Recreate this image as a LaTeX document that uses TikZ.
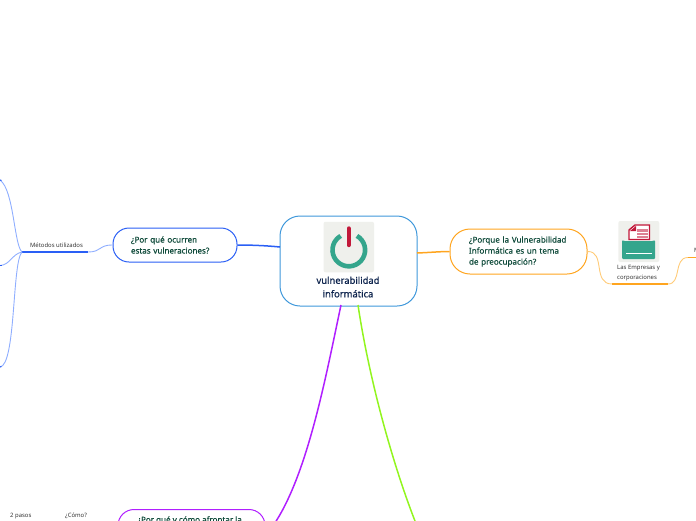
\documentclass[tikz,border=0pt]{standalone}
\usepackage{fontspec}
\setmainfont{Noto Sans}
\newfontfamily\semi[FakeBold=0.3]{Noto Sans}
\newfontfamily\semib[FakeBold=0.6]{Noto Sans}
\definecolor{topictext}{HTML}{0F4A3A}
\definecolor{maintext}{HTML}{10264F}
\definecolor{subtext}{HTML}{333333}
\definecolor{mainblue}{HTML}{3F98DB}
\definecolor{bluebr}{HTML}{2A5FF5}
\definecolor{bluelt}{HTML}{8FAEFF}
\definecolor{orangebr}{HTML}{FFA51F}
\definecolor{orangelt}{HTML}{FFCB78}
\definecolor{purplebr}{HTML}{B01FFF}
\definecolor{greenbr}{HTML}{92F51F}
\definecolor{iconbg}{HTML}{EFF0EC}
\definecolor{teal}{HTML}{34A58C}
\definecolor{crimson}{HTML}{C2183A}
\tikzset{
  x=1pt,y=-1pt,
  topicbox/.style={draw,line width=1pt,rounded corners=16pt,fill=white,inner sep=0pt,
    font=\semi\fontsize{8.05}{11}\selectfont,text=topictext,align=left},
  mainbox/.style={draw=mainblue,line width=1pt,rounded corners=20pt,fill=white,minimum width=137pt,minimum height=90pt},
  maintitle/.style={font=\semib\fontsize{9.4}{13.5}\selectfont,text=maintext,align=center,inner sep=0pt},
  subtitle/.style={font=\fontsize{5.95}{9.2}\selectfont,text=subtext,align=left,inner sep=0pt},
  iconbox/.style={fill=iconbg,rounded corners=2pt,inner sep=0pt},
  thinlink/.style={line width=.9pt},
  mainlink/.style={line width=1.5pt},
  sublineblue/.style={draw=bluebr,line width=1.6pt},
  sublineorange/.style={draw=orangebr,line width=1.6pt}
}
\begin{document}
\begin{tikzpicture}
\useasboundingbox (0,0) rectangle (696,520);
\clip (0,0) rectangle (696,520);
\coordinate (mainS1) at (341,305);
\coordinate (mainS2) at (358,305);
\node[mainbox] (main) at (348.5,261) {};
\node[topicbox,draw=bluebr,minimum width=124pt,minimum height=34pt,text width=88pt] (why) at (175,245) {¿Por qué ocurren\\estas vulneraciones?};
\node[topicbox,draw=orangebr,rounded corners=20pt,minimum width=137pt,minimum height=45pt,text width=99pt] (concern) at (518.5,251.5) {¿Porque la Vulnerabilidad\\Informática es un tema\\de preocupación?};
\node[topicbox,draw=purplebr,minimum width=147pt,minimum height=52pt,anchor=north] (face) at (191.5,509) {};
\node[topicbox,draw=none,fill=none,anchor=base west] (facetext) at (137,522.5) {¿Por qué y cómo afrontar la};
\coordinate (greenEnd) at (415,521);
\coordinate (mw) at (280,247);
\coordinate (me) at (417,253);
% main links
\draw[mainlink,bluebr] (mw) .. controls (265,245.5) and (250,245) .. (why.east);
\draw[mainlink,orangebr] (me) .. controls (430,252.5) and (440,251.5) .. (concern.west);
\draw[mainlink,purplebr] (mainS1) .. controls (325,380) and (305,490) .. (face.east);
\draw[mainlink,greenbr] (mainS2) .. controls (370,385) and (395,470) .. (greenEnd);
% left branch
\node[subtitle] (methods) at (56.5,245) {Métodos utilizados};
\coordinate (mL) at (22,252);
\coordinate (mR) at (88,252);
\draw[sublineblue] (mL) -- (mR);
\draw[thinlink,bluelt] (mR) .. controls (102,252) and (98,245) .. (why.west);
\coordinate (b1) at (0,180);
\coordinate (b2) at (0,265.5);
\coordinate (b3) at (0,367);
\draw[thinlink,bluelt] (mL) .. controls (14,245) and (14,190) .. (b1);
\draw[thinlink,bluelt] (mL) .. controls (12,254) and (10,265) .. (b2);
\draw[thinlink,bluelt] (mL) .. controls (12,262) and (16,365) .. (b3);
\draw[bluebr,line width=1pt] (b1) -- (1.5,180.5);
\draw[bluebr,line width=1pt] (b2) -- (2,265.5);
\draw[bluebr,line width=1pt] (b3) -- (1.5,366.5);
% right branch
\node[iconbox,minimum size=41pt] (printer) at (638.8,241.5) {};
\fill[teal,rounded corners=1pt] (622,240) -- (624,241) -- (653,241) -- (655,240) -- (655,259) -- (622,259) -- cycle;
\fill[white] (626,252.6) rectangle (652,254.4);
\draw[crimson,line width=1.4pt,fill=white] (629,239.5) -- (629,230) -- (635,225) -- (649.5,225) -- (649.5,239.5) -- cycle;
\fill[crimson!55] (637,229) rectangle (648,238);
\fill[white] (637,232) rectangle (648,233.3);
\fill[white] (637,235) rectangle (648,236.2);
\fill[crimson] (630,231) -- (636,231) -- (636,226) -- cycle;
\node[subtitle,anchor=north west] (firms) at (617,265.5) {Las Empresas y\\corporaciones};
\coordinate (fL) at (612,284);
\coordinate (fR) at (668,284);
\draw[sublineorange] (fL) -- (fR);
\draw[thinlink,orangelt] (concern.east) .. controls (606,251) and (592,284) .. (fL);
\coordinate (nL) at (688,257.5);
\coordinate (nR) at (697,257.5);
\draw[thinlink,orangelt] (fR) .. controls (682,284) and (673,257.5) .. (nL);
\draw[sublineorange] (nL) -- (nR);
\node[subtitle,anchor=west] (cutM) at (694,250) {M};
% main icon and title
\node[iconbox,minimum size=50.5pt] (power) at (348.8,247) {};
\begin{scope}[shift={(348.8,250)},y=1pt]
\draw[teal,line width=4.6pt] (60:16.3) arc[start angle=60,end angle=-240,radius=16.3];
\end{scope}
\draw[crimson,line width=4.4pt,line cap=round] (348.7,228.5) -- (348.7,245);
\node[maintitle] (title) at (348,287) {vulnerabilidad\\informática};
% bottom-left labels
\node[subtitle,anchor=west] (steps) at (10,516) {2 pasos};
\node[subtitle,anchor=west] (how) at (65,516) {¿Cómo?};
\end{tikzpicture}
\end{document}
